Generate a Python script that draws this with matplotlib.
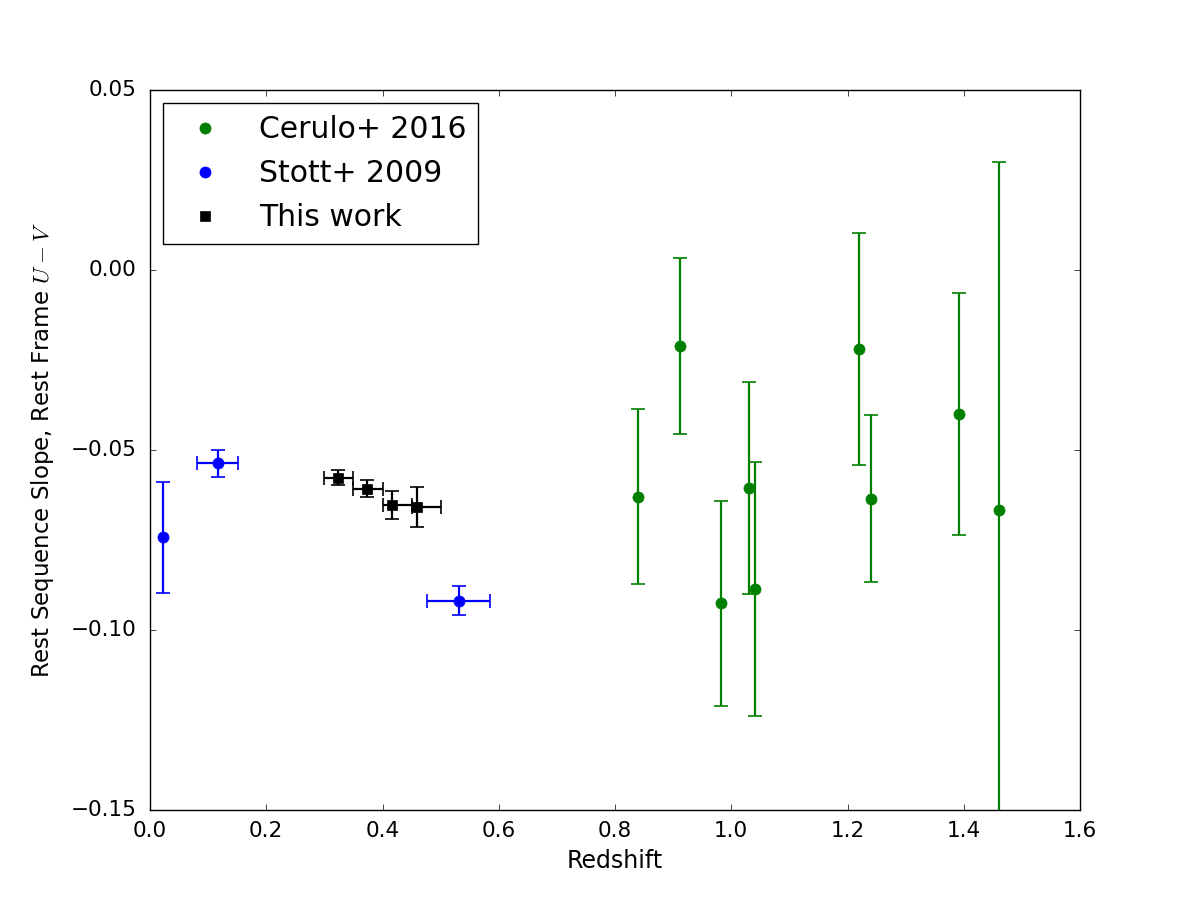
import numpy as np
import matplotlib
matplotlib.use("Agg")
import matplotlib.pyplot as plt

plt.style.use("classic")
plt.rcParams["mathtext.fontset"] = "cm"

# Cerulo+ 2016
cer_z = [0.840, 0.911, 0.982, 1.031, 1.041, 1.219, 1.241, 1.391, 1.461]
cer_slope = [-0.0630, -0.0211, -0.0926, -0.0606, -0.0886, -0.0220, -0.0635, -0.0399, -0.0667]
cer_err = [0.0243, 0.0245, 0.0284, 0.0294, 0.0352, 0.0323, 0.0231, 0.0336, 0.0966]

# Stott+ 2009
stott_z = [0.023, 0.1164, 0.531]
stott_zerr = [0.0, 0.035, 0.054]
stott_slope = [-0.0743, -0.0537, -0.0919]
stott_err = [0.0153, 0.0037, 0.0040]

# This work (redshift bins)
tw_z = [0.3228, 0.3738, 0.4158, 0.4602]
tw_zlo = [0.30, 0.35, 0.40, 0.45]
tw_zhi = [0.35, 0.40, 0.45, 0.50]
tw_slope = [-0.0577, -0.0607, -0.0653, -0.0659]
tw_err = [0.0021, 0.0023, 0.0039, 0.0056]

tw_xerr = [np.array(tw_z) - np.array(tw_zlo), np.array(tw_zhi) - np.array(tw_z)]

fig = plt.figure(figsize=(12, 9), dpi=100)
ax = fig.add_subplot(111)

ax.errorbar(cer_z, cer_slope, yerr=cer_err, fmt="none", ecolor="g",
            elinewidth=1.6, capsize=5, capthick=1.2)
ax.errorbar(stott_z, stott_slope, xerr=stott_zerr, yerr=stott_err, fmt="none",
            ecolor="b", elinewidth=1.6, capsize=5, capthick=1.2)
ax.errorbar(tw_z, tw_slope, xerr=tw_xerr, yerr=tw_err, fmt="none",
            ecolor="k", elinewidth=1.6, capsize=5, capthick=1.2)

ax.plot(cer_z, cer_slope, "o", color="g", mec="g", ms=8, label="Cerulo+ 2016")
ax.plot(stott_z, stott_slope, "o", color="b", mec="b", ms=8, label="Stott+ 2009")
ax.plot(tw_z, tw_slope, "s", color="k", mec="k", ms=7.5, label="This work")

ax.set_xlim(0, 1.6)
ax.set_ylim(-0.15, 0.05)
ax.set_xticks(np.arange(0, 1.61, 0.2))
ax.set_yticks([-0.15, -0.10, -0.05, 0.00, 0.05])
ax.tick_params(labelsize=15.5)
ax.tick_params(axis="y", pad=10)
ax.tick_params(axis="x", pad=8)
ax.set_xlabel("Redshift", fontsize=17, labelpad=6)
ax.set_ylabel("Rest Sequence Slope, Rest Frame $U\u2212V$", fontsize=16.5, labelpad=10)

ax.legend(loc="upper left", numpoints=1, fontsize=21.5, borderaxespad=0.45)

plt.savefig("out.png", dpi=100, facecolor="white")
